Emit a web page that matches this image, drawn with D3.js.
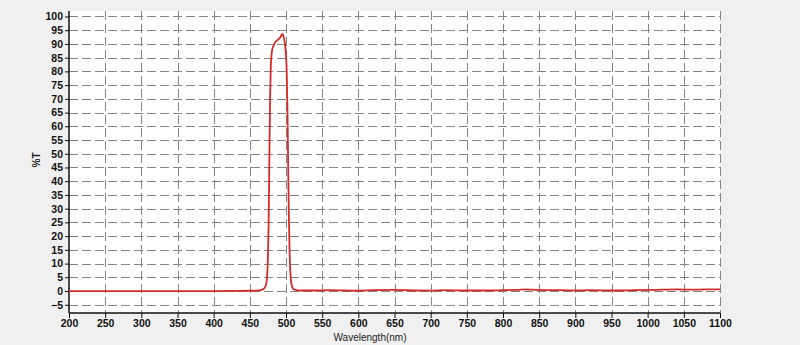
<!DOCTYPE html>
<html><head><meta charset="utf-8">
<script src="https://cdn.jsdelivr.net/npm/d3@7"></script>
<style>
html,body{margin:0;padding:0;background:#f0f0f0;}
svg{display:block;}
</style></head>
<body>
<svg id="chart" width="800" height="345"></svg>
<script>
// Data
const wavelength = [200,250,300,350,400,430,450,460,465,468,470,472,473,474,475,476,477,478,479,480,481,483,485,487,489,491,493,495,496,497,498,499,500,501,502,503,504,505,506,507,508,510,513,520,540,560,580,600,620,650,680,700,720,750,780,800,820,830,840,850,860,880,900,920,950,980,1000,1020,1040,1060,1080,1100];
const transmission = [0,0,0,0,0,0.05,0.1,0.15,0.3,0.6,1,2,3,6,12,25,48,70,82,86,88,89.5,90.5,91.2,91.6,92,92.8,93.7,93.2,92.3,91,89,86,80,66,46,27,14,7,3.5,2,0.8,0.4,0.2,0.2,0.3,0.2,0.1,0.3,0.4,0.2,0.15,0.3,0.2,0.2,0.3,0.4,0.6,0.5,0.4,0.3,0.3,0.2,0.3,0.2,0.3,0.4,0.5,0.6,0.5,0.6,0.6];
const xTicks = d3.range(200, 1101, 50);
const yTicks = d3.range(-5, 101, 5);

const svg = d3.select("#chart");
const mL = 69, mR = 720, mT = 11, mB = 313;

const x = d3.scaleLinear().domain([200, 1100]).range([mL, mR]);
const y = d3.scaleLinear().domain([-8, 102]).range([mB, mT]);

// plot background
svg.append("rect").attr("x", mL).attr("y", mT)
  .attr("width", mR - mL).attr("height", mB - mT).attr("fill", "#ffffff");

// grid
const grid = svg.append("g").attr("stroke", "#858585").attr("stroke-width", 1)
  .attr("stroke-dasharray", "9,4").attr("fill", "none");
grid.selectAll("line.h").data(yTicks).join("line").attr("class", "h")
  .attr("x1", mL).attr("x2", mR)
  .attr("y1", d => Math.round(y(d)) + 0.5).attr("y2", d => Math.round(y(d)) + 0.5);
grid.selectAll("line.v").data(xTicks.filter(d => d > 200)).join("line").attr("class", "v")
  .attr("y1", mT).attr("y2", mB)
  .attr("x1", d => Math.round(x(d)) + 0.5).attr("x2", d => Math.round(x(d)) + 0.5);

// axes
const fmt = d3.format("d");
const xAxis = d3.axisBottom(x).tickValues(xTicks).tickFormat(fmt).tickSize(5).tickSizeOuter(0).tickPadding(2);
const yAxis = d3.axisLeft(y).tickValues(yTicks).tickFormat(fmt).tickSize(4).tickSizeOuter(0).tickPadding(2);

const gx = svg.append("g").attr("transform", `translate(0,${mB})`).call(xAxis);
const gy = svg.append("g").attr("transform", `translate(${mL},0)`).call(yAxis);
[gx, gy].forEach(g => {
  g.select(".domain").attr("stroke", "#111").attr("stroke-width", 1.5);
  g.selectAll(".tick line").attr("stroke", "#111");
  g.selectAll(".tick text").attr("fill", "#111")
    .style("font-family", "Arial, 'Liberation Sans', sans-serif")
    .style("font-size", "10.5px").style("font-weight", "bold");
});
gy.select(".domain").attr("d", `M0,${mT}V${mB}`);
gx.select(".domain").attr("d", `M${mL},0H${mR}`);

// curve
const line = d3.line().x((d, i) => x(wavelength[i])).y(d => y(d)).curve(d3.curveMonotoneX);
svg.append("path").datum(transmission).attr("d", line)
  .attr("fill", "none").attr("stroke", "#d42b2b").attr("stroke-width", 1.8)
  .attr("stroke-linejoin", "round");

// titles
svg.append("text").attr("x", 370).attr("y", 341).attr("text-anchor", "middle")
  .style("font-family", "Arial, 'Liberation Sans', sans-serif").style("font-size", "10px")
  .attr("fill", "#222").text("Wavelength(nm)");
svg.append("text").attr("transform", "translate(40,160) rotate(-90)").attr("text-anchor", "middle")
  .style("font-family", "Arial, 'Liberation Sans', sans-serif").style("font-size", "10px")
  .style("font-weight", "bold").attr("fill", "#222").text("%T");
</script>
</body></html>
